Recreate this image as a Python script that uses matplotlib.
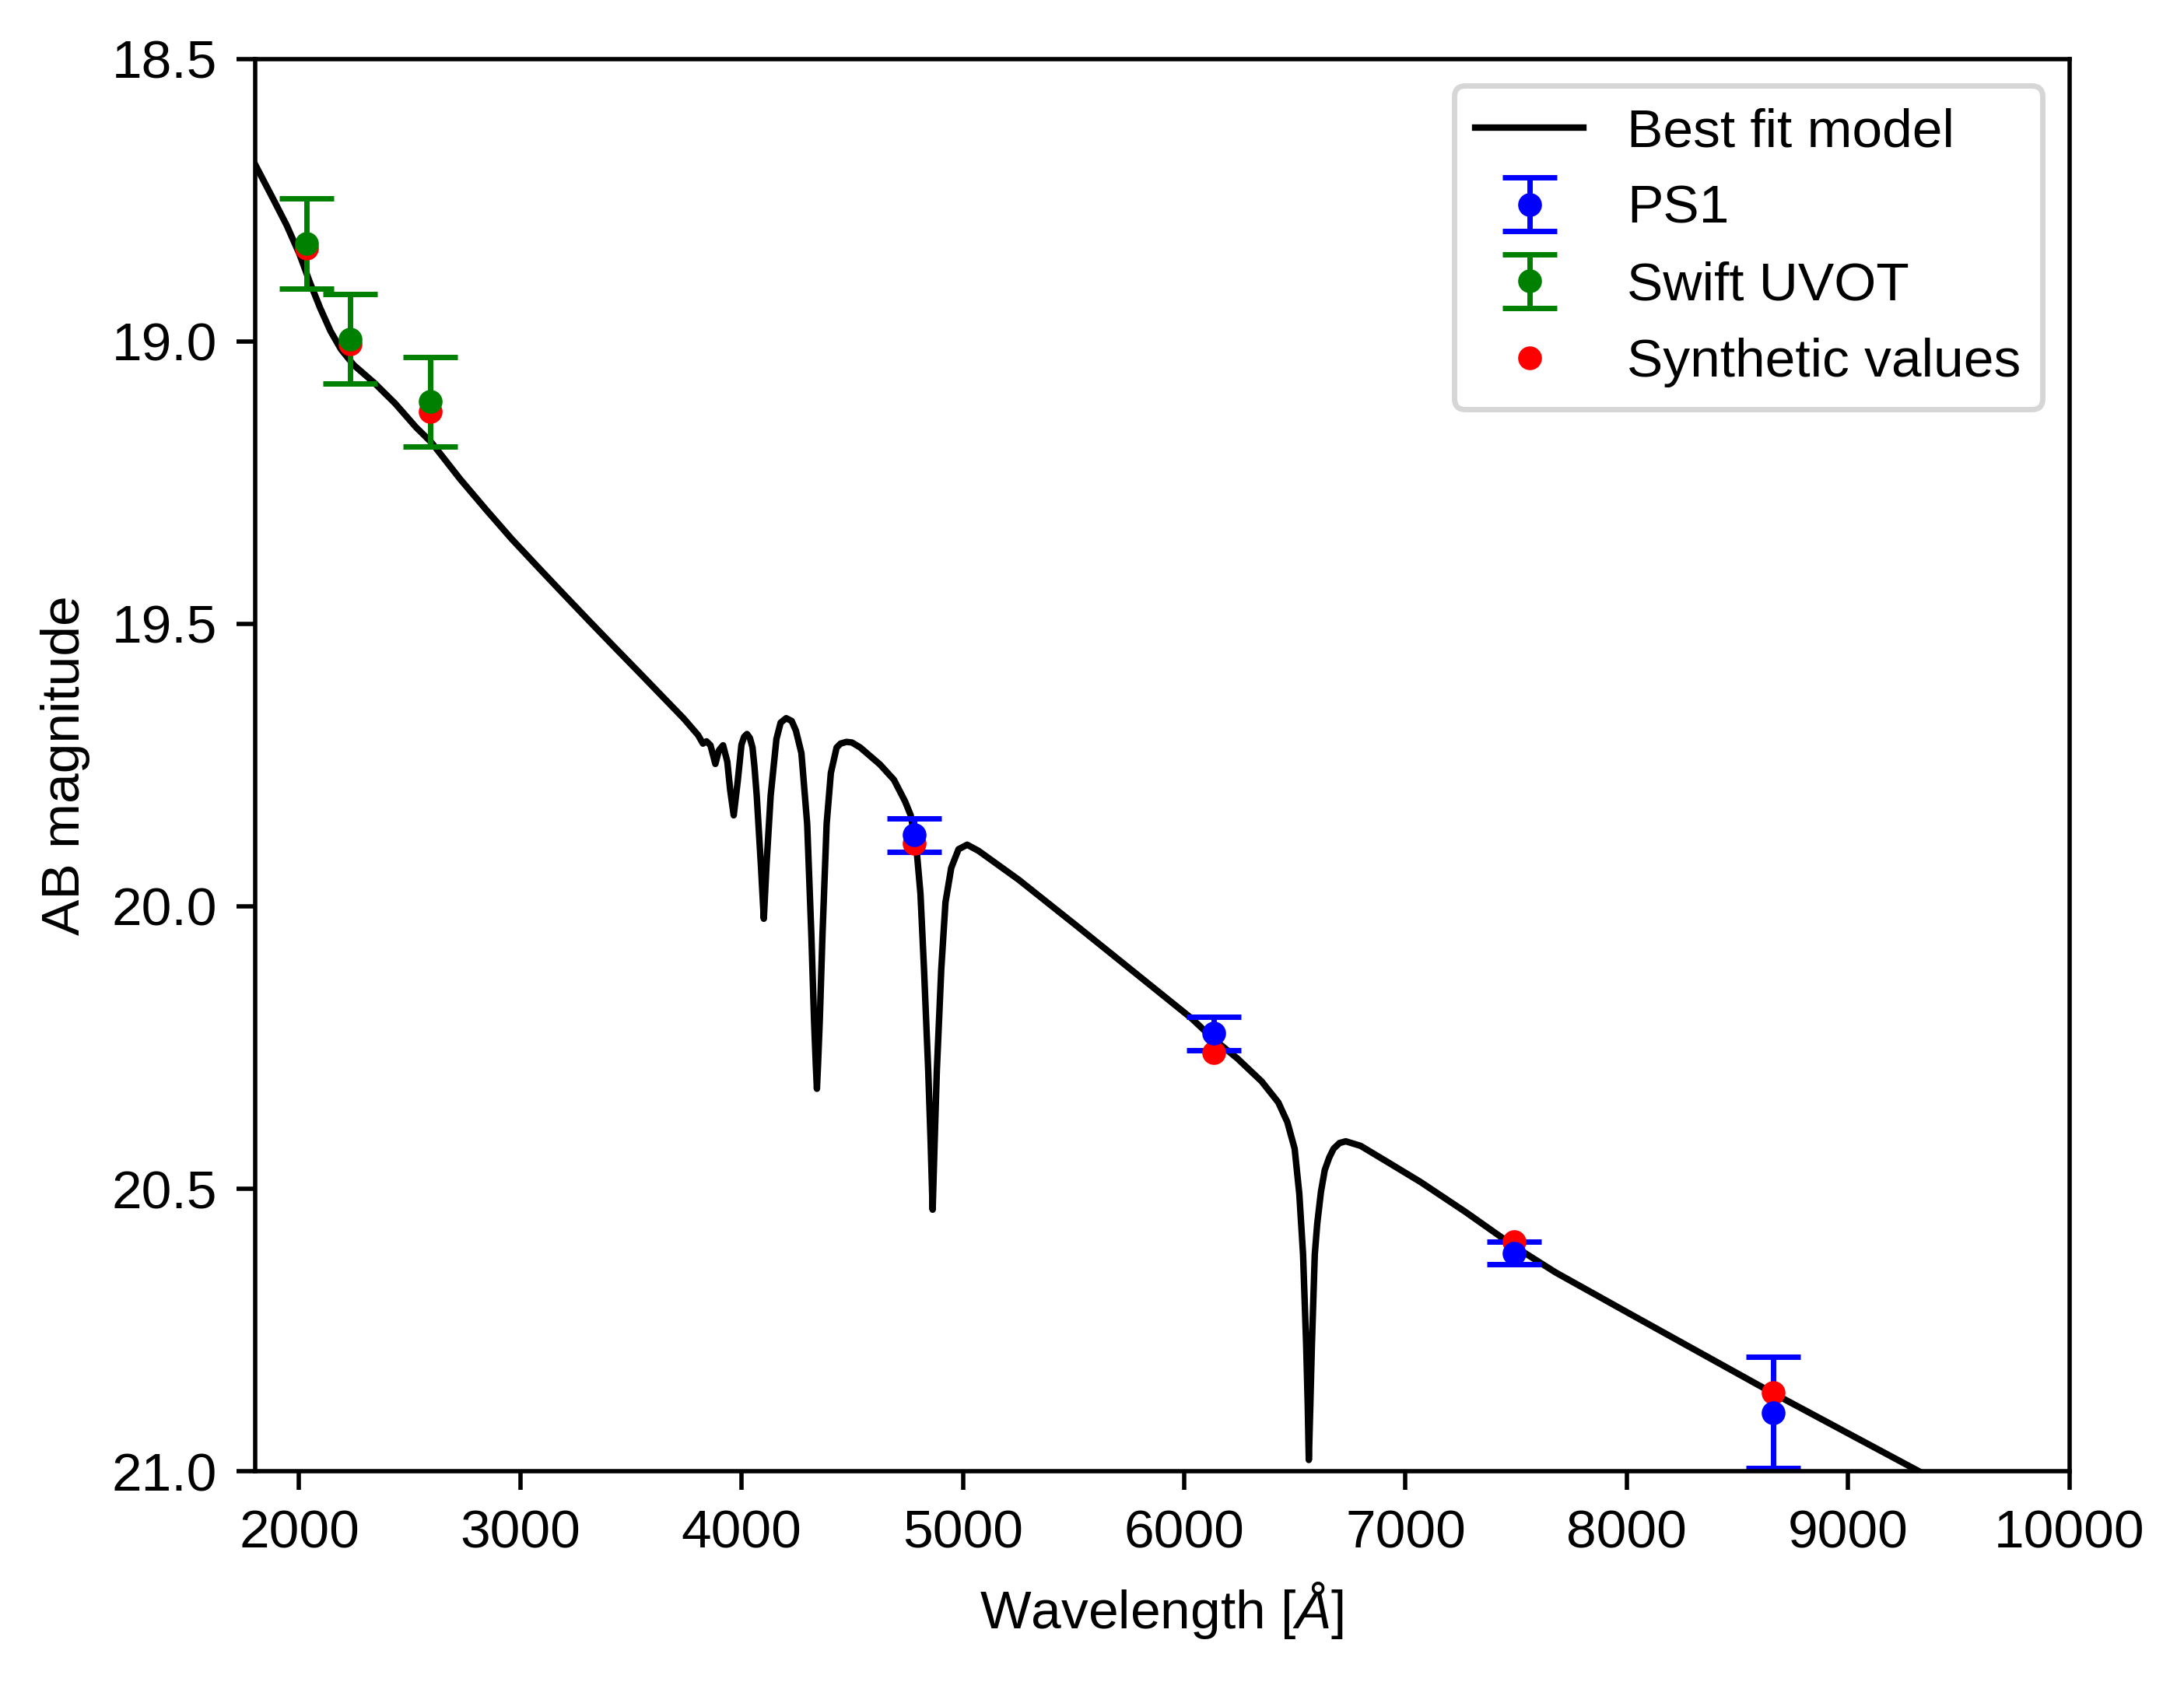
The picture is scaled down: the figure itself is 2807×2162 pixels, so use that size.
import matplotlib
matplotlib.use('Agg')
from matplotlib import pyplot as plt

plt.rcParams['font.family'] = ['Liberation Sans', 'DejaVu Sans']
plt.rcParams['font.size'] = 10
plt.rcParams['mathtext.fontset'] = 'custom'
plt.rcParams['mathtext.it'] = 'Liberation Sans:italic'
plt.rcParams['mathtext.rm'] = 'Liberation Sans'
plt.rcParams['lines.linewidth'] = 1.0

# best fit model spectrum (wavelength in A, AB mag)
model_wave = [1800, 1884, 1943, 2001, 2048, 2095, 2142, 2189, 2247, 2341,
              2434, 2528, 2598, 2728, 2845, 2961, 3078, 3194, 3311, 3427,
              3544, 3660, 3739, 3803, 3825, 3841, 3859, 3881, 3897, 3916,
              3935, 3948, 3964, 3982, 3999, 4011, 4024, 4037, 4049, 4058,
              4068, 4087, 4100, 4112, 4131, 4157, 4176, 4201, 4226, 4245,
              4270, 4296, 4315, 4327, 4335, 4340, 4345, 4353, 4365, 4384,
              4403, 4429, 4447, 4473, 4498, 4536, 4625, 4688, 4738, 4764,
              4789, 4808, 4824, 4843, 4854, 4863, 4872, 4882, 4902, 4921,
              4947, 4980, 5019, 5071, 5252, 5512, 5772, 6032, 6127, 6242,
              6350, 6425, 6466, 6499, 6520, 6537, 6551, 6558, 6563, 6570,
              6577, 6590, 6601, 6618, 6635, 6655, 6675, 6702, 6730, 6797,
              6933, 7068, 7271, 7492, 7678, 8040, 8662, 9320, 10000]
model_mag = [18.686, 18.749, 18.794, 18.845, 18.895, 18.941, 18.982, 19.014, 19.042, 19.074,
             19.110, 19.152, 19.179, 19.244, 19.298, 19.350, 19.399, 19.447, 19.495, 19.542,
             19.589, 19.636, 19.668, 19.697, 19.712, 19.708, 19.715, 19.748, 19.724, 19.715,
             19.744, 19.794, 19.839, 19.779, 19.714, 19.700, 19.695, 19.702, 19.719, 19.754,
             19.804, 19.928, 20.022, 19.928, 19.804, 19.704, 19.675, 19.667, 19.672, 19.689,
             19.729, 19.854, 20.052, 20.201, 20.280, 20.323, 20.280, 20.201, 20.052, 19.854,
             19.764, 19.719, 19.712, 19.709, 19.710, 19.719, 19.749, 19.776, 19.814, 19.839,
             19.893, 19.978, 20.111, 20.290, 20.417, 20.537, 20.417, 20.290, 20.111, 19.993,
             19.932, 19.899, 19.891, 19.902, 19.953, 20.034, 20.116, 20.198, 20.233, 20.270,
             20.310, 20.347, 20.382, 20.429, 20.509, 20.616, 20.775, 20.880, 20.980, 20.880,
             20.775, 20.616, 20.562, 20.505, 20.467, 20.445, 20.429, 20.419, 20.416, 20.424,
             20.456, 20.488, 20.541, 20.602, 20.648, 20.727, 20.862, 21.000, 21.140]

# PS1 photometry
ps1_wave = [4781, 6133, 7492, 8662]
ps1_mag = [19.874, 20.225, 20.614, 20.896]
ps1_err = [0.030, 0.030, 0.020, 0.099]

# Swift UVOT photometry
uvot_wave = [2033, 2229, 2592]
uvot_mag = [18.827, 18.996, 19.107]
uvot_err = [0.080, 0.079, 0.079]

# synthetic magnitudes from the model
synth_wave = [2033, 2229, 2592, 4781, 6133, 7492, 8662]
synth_mag = [18.835, 19.004, 19.124, 19.889, 20.259, 20.594, 20.861]

fig = plt.figure(figsize=(2807 / 500, 2162 / 500), dpi=500)
ax = fig.add_axes([0.1167, 0.1253, 0.8308, 0.8397])

l1, = ax.plot(model_wave, model_mag, c='black', lw=1.2, label='Best fit model')
e1 = ax.errorbar(ps1_wave, ps1_mag, yerr=ps1_err, fmt='o', c='blue',
                 ms=3.4, capsize=5, label='PS1')
e2 = ax.errorbar(uvot_wave, uvot_mag, yerr=uvot_err, fmt='o', c='green',
                 ms=3.4, capsize=5, label='Swift UVOT')
l2, = ax.plot(synth_wave, synth_mag, 'o', c='red', ms=3.4, label='Synthetic values')

ax.set_xlim(1800, 10000)
ax.set_ylim(21.0, 18.5)
ax.set_xticks(range(2000, 10001, 1000))
ax.set_yticks([18.5, 19.0, 19.5, 20.0, 20.5, 21.0])
ax.set_xlabel(r'Wavelength [$\AA$]')
ax.set_ylabel('AB magnitude')
ax.legend(handles=[l1, e1, e2, l2], loc='upper right')

fig.savefig('out.png', dpi=500)
